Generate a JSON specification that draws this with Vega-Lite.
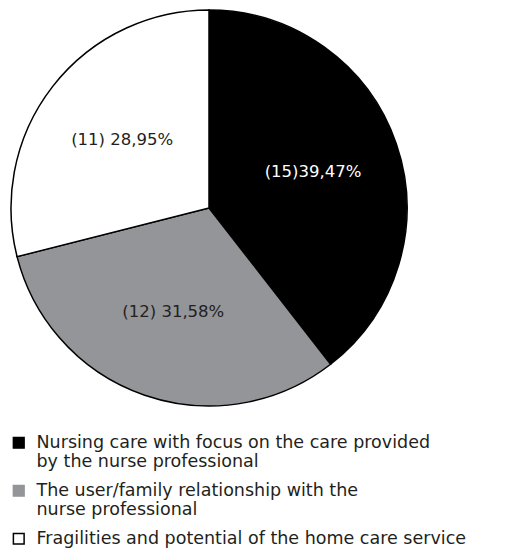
{
  "$schema": "https://vega.github.io/schema/vega-lite/v6.json",
  "width": 396,
  "height": 396,
  "autosize": {"type": "none"},
  "padding": {"left": 11, "top": 10, "right": 103, "bottom": 145},
  "background": "white",
  "config": {"view": {"stroke": null}, "font": "DejaVu Sans"},
  "data": {
    "values": [
      {"category": "Nursing care with focus on the care provided|by the nurse professional", "count": 15, "order": 1, "label": "(15)39,47%"},
      {"category": "The user/family relationship with the|nurse professional", "count": 12, "order": 2, "label": "(12) 31,58%"},
      {"category": "Fragilities and potential of the home care service", "count": 11, "order": 3, "label": "(11) 28,95%"}
    ]
  },
  "encoding": {
    "theta": {"field": "count", "type": "quantitative", "stack": true},
    "order": {"field": "order", "type": "quantitative"}
  },
  "layer": [
    {
      "mark": {"type": "arc", "stroke": "#000000", "strokeWidth": 1.5},
      "encoding": {
        "color": {
          "field": "category",
          "type": "nominal",
          "sort": {"field": "order"},
          "scale": {"range": ["#000000", "#939598", "#ffffff"]},
          "legend": {
            "title": null,
            "orient": "none",
            "legendX": -1,
            "legendY": 424,
            "direction": "vertical",
            "symbolType": "square",
            "symbolSize": 115,
            "symbolStrokeColor": "#000000",
            "symbolStrokeWidth": 1.5,
            "labelFontSize": 17.5,
            "labelColor": "#231f20",
            "labelLimit": 600,
            "labelExpr": "split(datum.label, '|')",
            "rowPadding": 10,
            "labelOffset": 9,
            "encode": {
              "symbols": {"update": {"stroke": {"signal": "datum.index == 1 ? '#939598' : '#000000'"}}},
              "labels": {"update": {"lineHeight": {"value": 19}}}
            }
          }
        }
      }
    },
    {
      "mark": {"type": "text", "radius": 110, "fontSize": 16.5},
      "encoding": {
        "text": {"field": "label"},
        "color": {"condition": {"test": "datum.order == 1", "value": "#ffffff"}, "value": "#231f20"}
      }
    }
  ]
}
